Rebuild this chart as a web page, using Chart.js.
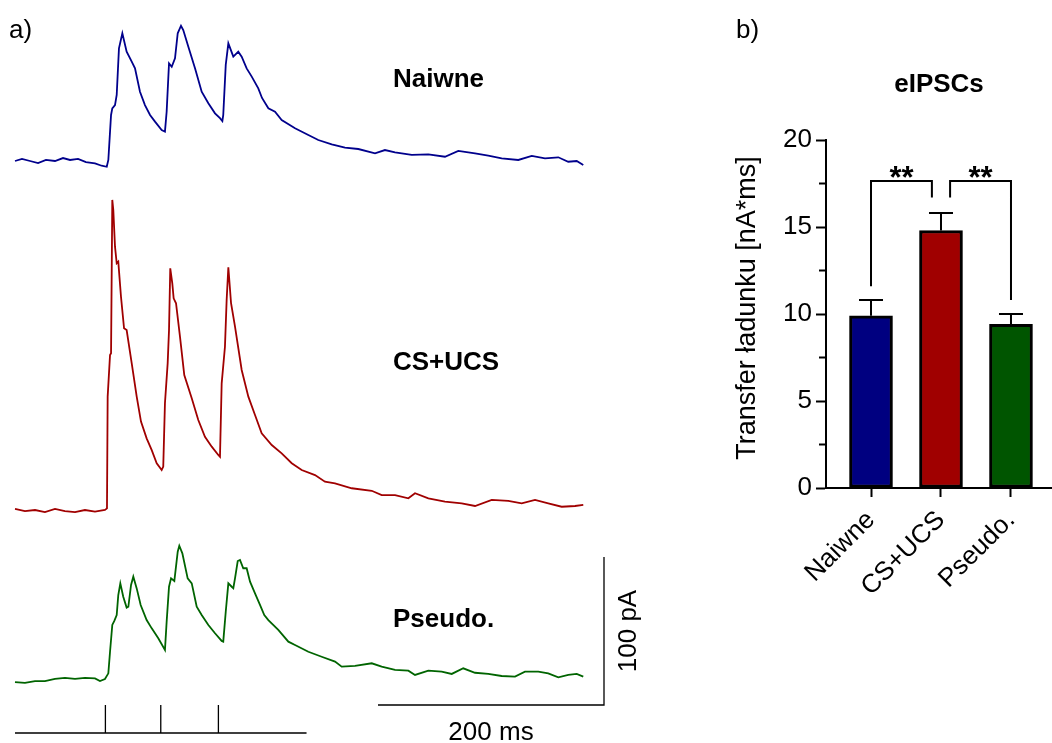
<!DOCTYPE html>
<html><head><meta charset="utf-8">
<script src="https://cdn.jsdelivr.net/npm/chart.js@4.4.1/dist/chart.umd.min.js"></script>
<style>
html,body{margin:0;padding:0;background:#fff;overflow:hidden;width:1052px;height:743px;}
#a{position:absolute;left:0;top:0;}
#b{position:absolute;left:700px;top:0;}
</style></head><body>
<canvas id="a" width="700" height="743"></canvas>
<canvas id="b" width="352" height="743"></canvas>
<script>
// ---------------- DATA ----------------
// Panel b
const categories = ['Naiwne', 'CS+UCS', 'Pseudo.'];
const meanCharge = [9.9, 14.8, 9.4];      // nA*ms
const semCharge  = [0.9, 1.0, 0.6];
const sigPairs   = [[0, 1], [1, 2]];
const sigLabels  = ['**', '**'];
const yTickValues = [0, 5, 10, 15, 20];

// Panel a: example traces [time ms, current pA]
const traceLabels = ['Naiwne', 'CS+UCS', 'Pseudo.'];
const naiwneTrace = [[0,0],[6.2,1.4],[13.3,0],[20.4,-1.4],[27.4,0.7],[35.4,0],[42.5,2.0],[48.7,0.7],[55.8,1.4],[62.8,-0.7],[70.8,-1.6],[76.7,-3.2],[81.2,-3.9],[82.6,0.7],[85.0,31.1],[86.1,35.6],[88.5,37.8],[90.0,44.6],[92.0,76.1],[95.0,86.3],[98.8,73.9],[103.3,67.1],[106.2,62.6],[110.6,46.8],[115.0,37.8],[119.5,31.1],[123.9,26.6],[129.8,20.9],[132.7,19.8],[134.2,33.3],[136.3,66.0],[138.7,63.7],[141.6,69.4],[144.0,86.3],[146.9,91.4],[148.9,88.5],[153.4,77.2],[159.3,62.6],[165.2,46.8],[171.1,39.0],[177.0,32.2],[181.4,28.9],[183.5,27.0],[184.3,31.1],[186.5,64.9],[188.8,79.5],[193.2,70.5],[197.6,73.9],[200.6,70.5],[205.0,62.6],[209.5,57.0],[215.3,49.1],[218.6,42.6],[224.2,35.6],[230.1,33.3],[236.0,27.7],[247.8,22.1],[259.6,17.6],[268.4,14.2],[280.3,11.3],[292.0,9.0],[303.8,8.1],[318.6,5.2],[327.4,7.4],[336.3,5.9],[351.1,4.1],[365.8,4.5],[380.5,2.9],[392.3,6.8],[407.1,5.2],[418.8,3.6],[430.7,1.8],[445.4,0.7],[457.3,3.4],[469.0,1.8],[480.8,2.5],[489.6,-0.5],[497.1,0],[502.9,-2.7]];
const csUcsTrace = [[0,0.7],[8.8,-0.7],[17.7,0],[26.5,-1.4],[35.4,0.7],[44.2,-0.7],[53.1,-1.4],[61.9,0],[70.8,-1.1],[79.6,0],[81.4,1.1],[82.0,76.6],[84.1,104.7],[85.0,105.9],[86.1,209.5],[87.0,202.7],[88.5,177.9],[90.0,166.7],[91.4,167.8],[93.8,144.1],[96.5,122.8],[98.8,121.6],[103.3,99.1],[107.7,76.6],[111.5,59.7],[116.5,48.4],[121.0,40.5],[125.4,31.6],[129.8,27.0],[131.2,29.3],[132.7,72.1],[135.1,99.1],[136.3,121.6],[137.4,163.3],[139.2,153.2],[140.4,143.0],[142.5,139.7],[146.0,117.1],[149.8,91.2],[156.4,75.5],[162.2,60.8],[168.1,49.5],[174.1,42.8],[179.9,37.2],[181.4,36.0],[182.9,85.6],[185.8,110.3],[187.3,141.9],[188.8,164.0],[191.2,139.7],[194.7,123.9],[200.6,94.6],[206.5,76.6],[212.4,64.2],[218.3,51.8],[227.2,43.9],[236.0,38.3],[244.9,31.6],[253.7,27.0],[265.5,23.6],[274.3,19.1],[283.2,18.0],[298.0,14.7],[315.7,13.0],[324.5,10.1],[336.3,10.1],[348.1,7.9],[354.0,11.3],[365.8,7.9],[380.5,5.6],[395.3,4.5],[407.1,2.7],[421.9,6.8],[436.5,6.1],[448.4,4.5],[460.2,6.8],[471.9,4.5],[483.8,2.2],[495.6,2.7],[502.9,3.4]];
const pseudoTrace = [[0,-1.4],[8.8,-2.0],[17.7,-0.7],[26.5,-0.7],[35.4,0.7],[44.2,1.4],[53.1,0.7],[61.9,1.4],[70.8,1.1],[75.2,-0.7],[79.6,0.7],[82.6,4.5],[84.1,19.1],[86.1,37.2],[87.9,39.9],[90.0,43.9],[91.4,57.4],[93.2,65.3],[95.8,56.3],[98.8,48.9],[100.3,49.5],[102.7,64.2],[104.7,69.8],[107.7,61.9],[111.2,50.7],[116.5,40.5],[121.0,34.9],[126.8,28.2],[132.7,20.3],[134.2,39.4],[136.3,63.0],[138.1,68.7],[141.0,66.9],[144.0,86.7],[145.4,90.7],[148.1,85.6],[152.8,68.7],[156.4,65.3],[160.8,49.5],[165.2,43.9],[171.1,37.2],[177.0,31.6],[182.9,26.4],[184.3,25.9],[186.5,46.1],[188.8,65.3],[191.8,63.0],[193.2,62.0],[194.7,68.7],[197.1,80.4],[199.1,81.1],[202.0,75.5],[205.0,75.5],[208.0,66.4],[212.4,58.6],[216.8,50.7],[220.6,43.9],[224.2,40.5],[233.0,33.8],[241.9,25.9],[247.8,23.6],[259.6,19.1],[271.4,15.7],[283.2,12.4],[289.1,9.0],[300.9,9.5],[315.7,11.3],[324.5,9.0],[336.3,6.8],[348.1,6.3],[354.0,3.4],[365.8,6.3],[377.6,5.6],[386.5,4.1],[396.7,7.9],[407.1,4.9],[418.8,4.1],[430.7,2.7],[442.5,2.3],[451.3,5.6],[463.1,5.6],[471.9,4.5],[480.8,1.8],[489.6,3.4],[497.1,4.1],[502.9,2.3]];
const stimTimesMs = [80, 129, 180];
const stimWindowMs = 258;
const scaleBarMs = 200;
const scaleBarPA = 100;

// ---------------- LAYOUT / STYLE ----------------
const FONT = "'Liberation Sans', Arial, sans-serif";
Chart.defaults.font.family = FONT;
Chart.defaults.color = '#000';
const pxPerMs = 1.13, pxPerPA = 1.48, traceLeftPx = 15, canvasAW = 700, canvasH = 743;
const baselinePx = [161, 510, 680];
const traceColors = ['#00008c', '#a00000', '#006400'];
const labelYPx = [80, 363, 620];
const stimLinePx = 733, stimTickPx = 28;
const scaleBarPx = {x0: 378, y: 705};
const yOf = px => -px / pxPerPA;
const xOf = px => (px - traceLeftPx) / pxPerMs;

const traces = [naiwneTrace, csUcsTrace, pseudoTrace];
const datasetsA = traces.map((tr, k) => ({
  data: tr.map(([t, i]) => ({x: t, y: i + yOf(baselinePx[k])})),
  borderColor: traceColors[k], borderWidth: 1.8, pointRadius: 0, tension: 0, fill: false
}));
// stimulation protocol line
const stimData = [{x: 0, y: yOf(stimLinePx)}, {x: stimWindowMs, y: yOf(stimLinePx)}];
stimTimesMs.forEach(t => {
  stimData.push({x: t, y: null});
  stimData.push({x: t, y: yOf(stimLinePx)});
  stimData.push({x: t, y: yOf(stimLinePx) + stimTickPx / pxPerPA});
});
datasetsA.push({data: stimData, borderColor: '#000', borderWidth: 1.3, pointRadius: 0, spanGaps: false, tension: 0});
// scale bars
const sbX0 = xOf(scaleBarPx.x0), sbY = yOf(scaleBarPx.y);
datasetsA.push({data: [{x: sbX0, y: sbY}, {x: sbX0 + scaleBarMs, y: sbY}, {x: sbX0 + scaleBarMs, y: sbY + scaleBarPA}],
  borderColor: '#000', borderWidth: 1.3, pointRadius: 0, tension: 0});

const textA = {
  id: 'textA',
  afterDraw(chart) {
    const c = chart.ctx, xs = chart.scales.x, ys = chart.scales.y;
    c.save();
    c.fillStyle = '#000';
    c.textBaseline = 'middle';
    c.textAlign = 'left';
    c.font = '26px ' + FONT;
    c.fillText('a)', 9, 31);
    c.font = 'bold 26px ' + FONT;
    traceLabels.forEach((t, k) => c.fillText(t, 393, labelYPx[k]));
    c.font = '26px ' + FONT;
    c.textAlign = 'center';
    const mx = (xs.getPixelForValue(sbX0) + xs.getPixelForValue(sbX0 + scaleBarMs)) / 2;
    c.fillText(scaleBarMs + ' ms', mx, 733);
    const my = (ys.getPixelForValue(sbY) + ys.getPixelForValue(sbY + scaleBarPA)) / 2;
    c.translate(xs.getPixelForValue(sbX0 + scaleBarMs) + 25, my);
    c.rotate(-Math.PI / 2);
    c.fillText(scaleBarPA + ' pA', 0, 0);
    c.restore();
  }
};

new Chart(document.getElementById('a'), {
  type: 'line',
  data: {datasets: datasetsA},
  options: {
    responsive: false, animation: false, parsing: true,
    layout: {padding: 0},
    plugins: {legend: {display: false}, tooltip: {enabled: false}},
    scales: {
      x: {type: 'linear', display: false, min: xOf(0), max: xOf(canvasAW)},
      y: {type: 'linear', display: false, min: yOf(canvasH), max: 0}
    }
  },
  plugins: [textA]
});

// ---------------- PANEL B ----------------
const barColors = ['#000080', '#a00000', '#005500'];
const annotB = {
  id: 'annotB',
  afterDatasetsDraw(chart) {
    const c = chart.ctx, xs = chart.scales.x, ys = chart.scales.y;
    c.save();
    c.strokeStyle = '#000';
    c.lineWidth = 2;
    // error bars (upper)
    meanCharge.forEach((m, i) => {
      const x = xs.getPixelForValue(i), y0 = ys.getPixelForValue(m), y1 = ys.getPixelForValue(m + semCharge[i]);
      c.beginPath(); c.moveTo(x, y0); c.lineTo(x, y1); c.moveTo(x - 12, y1); c.lineTo(x + 12, y1); c.stroke();
    });
    // minor ticks
    [2.5, 7.5, 12.5, 17.5].forEach(v => {
      const y = ys.getPixelForValue(v);
      c.beginPath(); c.moveTo(xs.left - 7, y); c.lineTo(xs.left, y); c.stroke();
    });
    // significance brackets
    const top = 17.65, gap = 0.8, midOff = 0.13;
    sigPairs.forEach(([a, b], k) => {
      const topVal = i => meanCharge[i] + semCharge[i];
      const xa = a === 1 ? a + midOff : a, xb = b === 1 ? b - midOff : b;
      const ya = topVal(a) + gap + (a === 1 ? 0.1 : 0), yb = topVal(b) + gap + (b === 1 ? 0.1 : 0);
      const pxa = xs.getPixelForValue(xa), pxb = xs.getPixelForValue(xb), pyt = ys.getPixelForValue(top);
      c.beginPath();
      c.moveTo(pxa, ys.getPixelForValue(ya)); c.lineTo(pxa, pyt); c.lineTo(pxb, pyt); c.lineTo(pxb, ys.getPixelForValue(yb));
      c.stroke();
      c.fillStyle = '#000';
      c.font = 'bold 31px ' + FONT;
      c.textAlign = 'center'; c.textBaseline = 'alphabetic';
      c.fillText(sigLabels[k], (pxa + pxb) / 2, pyt + 7);
    });
    c.restore();
  },
  afterDraw(chart) {
    const c = chart.ctx;
    c.save();
    c.fillStyle = '#000';
    c.textBaseline = 'middle';
    c.textAlign = 'left';
    c.font = '26px ' + FONT;
    c.fillText('b)', 36, 31);
    c.textAlign = 'center';
    c.font = 'bold 26px ' + FONT;
    c.fillText('eIPSCs', (chart.chartArea.left + chart.chartArea.right) / 2, 85);
    c.font = '27px ' + FONT;
    c.translate(48, 308);
    c.rotate(-Math.PI / 2);
    c.fillText('Transfer ładunku [nA*ms]', 0, 0);
    c.restore();
  }
};

new Chart(document.getElementById('b'), {
  type: 'bar',
  data: {
    datasets: [{
      data: meanCharge.map((v, i) => ({x: i, y: v})),
      backgroundColor: barColors, borderColor: '#000', borderWidth: 3, borderSkipped: false,
      barThickness: 43
    }]
  },
  options: {
    responsive: false, animation: false,
    layout: {padding: {top: 140, left: 32, right: 0, bottom: 0}},
    plugins: {legend: {display: false}, tooltip: {enabled: false}},
    scales: {
      x: {
        type: 'linear', min: -0.643, max: 2.586, offset: false,
        afterBuildTicks: s => { s.ticks = categories.map((_, i) => ({value: i})); },
        afterFit: s => { s.height = 255; },
        ticks: {callback: v => categories[v], minRotation: 45, maxRotation: 45, font: {size: 26}, color: '#000', padding: 8},
        grid: {offset: false, drawOnChartArea: false, tickLength: 9, tickWidth: 2, tickColor: '#000'},
        border: {display: true, width: 2, color: '#000'}
      },
      y: {
        min: 0, max: 20,
        afterBuildTicks: s => { s.ticks = yTickValues.map(v => ({value: v})); },
        afterFit: s => { s.width = 94; },
        ticks: {font: {size: 26}, color: '#000', padding: 4},
        grid: {drawOnChartArea: false, tickLength: 10, tickWidth: 2, tickColor: '#000'},
        border: {display: true, width: 2, color: '#000'}
      }
    }
  },
  plugins: [annotB]
});
</script>
</body></html>
